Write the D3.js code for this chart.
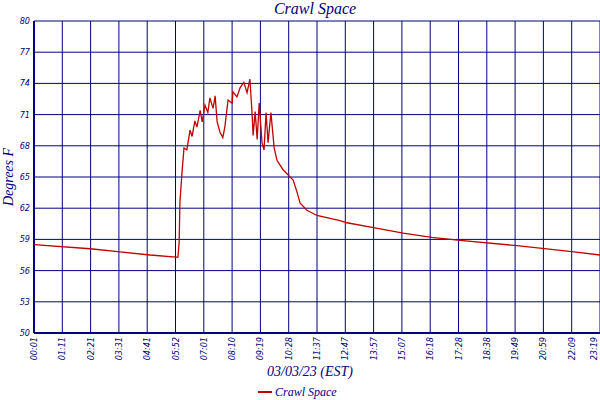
<!DOCTYPE html><html><head><meta charset="utf-8"><script src="https://cdn.jsdelivr.net/npm/d3@7"></script>
<style>body{margin:0;background:#fff}</style></head><body><svg id="c" width="600" height="400"></svg>
<script>
const tickLabels=["00:01","01:11","02:21","03:31","04:41","05:52","07:01","08:10","09:19","10:28","11:37","12:47","13:57","15:07","16:18","17:28","18:38","19:49","20:59","22:09","23:19"];
const tickMinutes=[1,71,141,211,281,351,421,491,561,631,701,771,841,911,981,1051,1121,1191,1261,1331,1401];
const minutes=[1,140,214,288,352,357,360,362,367,372,379,387,392,399,404,412,417,424,431,436,444,449,454,461,468,473,481,491,493,503,511,520,528,535,540,543,548,553,558,565,570,575,580,587,595,602,617,642,652,659,676,701,758,775,844,914,985,1055,1196,1337,1401];
const temps=[58.5,58.1,57.8,57.5,57.3,57.3,58.7,62.6,65.4,67.8,67.6,69.5,68.9,70.4,69.8,71.4,70.3,71.9,71.2,72.6,71.6,72.8,70.3,69.3,68.8,69.8,72.4,72.1,73.2,72.7,73.6,74.1,73.1,74.4,71.4,69.0,71.3,68.6,72.1,68.3,67.6,71.2,68.3,71.2,67.8,66.6,65.7,64.7,63.5,62.5,61.8,61.3,60.8,60.6,60.1,59.6,59.2,58.9,58.4,57.8,57.5];
const yTicks=[50,53,56,59,62,65,68,71,74,77,80];
const navy="#000080",red="#c00000";
const svg=d3.select("#c");
const L=34,R=600,T=21,B=333;
const x=d3.scaleLinear().domain([1,1401]).range([L,R]);
const y=d3.scaleLinear().domain([50,80]).range([B,T]);
const g=svg.append("g");
yTicks.forEach(v=>g.append("line").attr("x1",L).attr("x2",R).attr("y1",y(v)).attr("y2",y(v)).attr("stroke",navy).attr("stroke-width",1));
tickMinutes.forEach(m=>g.append("line").attr("x1",x(m)).attr("x2",x(m)).attr("y1",T).attr("y2",B).attr("stroke",navy).attr("stroke-width",1));
g.append("line").attr("x1",L).attr("x2",L).attr("y1",T).attr("y2",B).attr("stroke",navy).attr("stroke-width",2);
g.append("line").attr("x1",L).attr("x2",R).attr("y1",B).attr("y2",B).attr("stroke",navy).attr("stroke-width",2);
const font="'DejaVu Sans Condensed','DejaVu Sans',sans-serif";
yTicks.forEach(v=>svg.append("text").attr("x",L-4).attr("y",y(v)+3).attr("text-anchor","end").attr("font-size",9).attr("font-style","italic").attr("font-family",font).attr("fill",navy).text(v));
tickMinutes.forEach((m,i)=>svg.append("text").attr("transform",`translate(${Math.min(x(m)+3,597)},${B+4}) rotate(-90)`).attr("text-anchor","end").attr("font-size",9).attr("font-style","italic").attr("font-family",font).attr("fill",navy).text(tickLabels[i]));
const line=d3.line().x((d,i)=>x(minutes[i])).y(d=>y(d));
svg.append("path").attr("d",line(temps)).attr("fill","none").attr("stroke",red).attr("stroke-width",1.3);
svg.append("text").attr("x",315).attr("y",14).attr("text-anchor","middle").attr("font-size",16).attr("font-style","italic").attr("font-family","'Liberation Serif',serif").attr("fill",navy).text("Crawl Space");
svg.append("text").attr("transform",`translate(13,${(T+B)/2}) rotate(-90)`).attr("text-anchor","middle").attr("font-size",14).attr("font-style","italic").attr("font-family","'Liberation Serif',serif").attr("fill",navy).text("Degrees F");
svg.append("text").attr("x",310).attr("y",376).attr("text-anchor","middle").attr("font-size",14).attr("font-style","italic").attr("font-family","'Liberation Serif',serif").attr("fill",navy).text("03/03/23 (EST)");
svg.append("line").attr("x1",258).attr("x2",272).attr("y1",392).attr("y2",392).attr("stroke",red).attr("stroke-width",2);
svg.append("text").attr("x",275).attr("y",396).attr("font-size",12).attr("font-style","italic").attr("font-family","'Liberation Serif',serif").attr("fill",navy).text("Crawl Space");
</script></body></html>
